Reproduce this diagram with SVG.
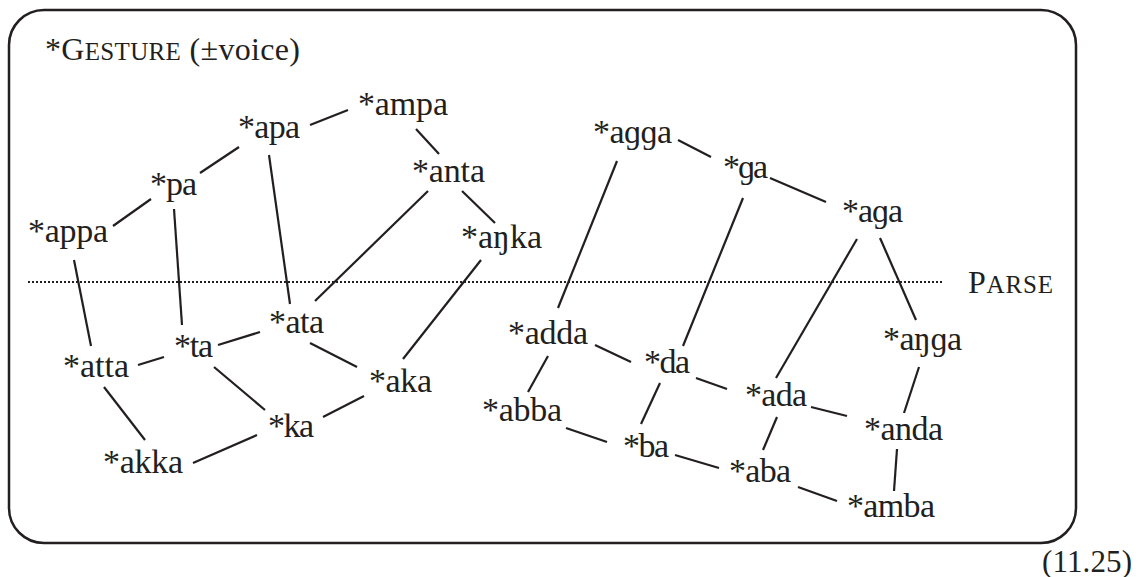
<svg xmlns="http://www.w3.org/2000/svg" width="1142" height="577" viewBox="0 0 1142 577">
<style>
text{font-family:"Liberation Serif","Times New Roman",serif;font-size:32px;fill:#231f20}
.n text{font-size:34px}
.sc{font-size:25px}
#edges line{stroke:#231f20;stroke-width:2.2;stroke-linecap:butt}
</style>
<rect width="1142" height="577" fill="#fff"/>
<rect id="frame" x="9" y="10" width="1067" height="533" rx="35" ry="35" fill="none" stroke="#231f20" stroke-width="2.5"/>
<text id="title" x="45" y="60" textLength="255">*G<tspan class="sc">ESTURE</tspan> (±voice)</text>
<line id="parse-line" x1="28" y1="282" x2="942" y2="282" stroke="#231f20" stroke-width="2" stroke-dasharray="2 2"/>
<text id="parse" x="968" y="293" textLength="85">P<tspan class="sc">ARSE</tspan></text>
<text id="number" x="1042" y="572" textLength="90" style="font-size:31px">(11.25)</text>
<g id="edges">
<line x1="310" y1="125" x2="348" y2="110"/>
<line x1="200" y1="173" x2="239" y2="147"/>
<line x1="113" y1="226" x2="151" y2="199"/>
<line x1="269" y1="155" x2="290" y2="304"/>
<line x1="174" y1="209" x2="182" y2="325"/>
<line x1="74" y1="260" x2="91" y2="346"/>
<line x1="416" y1="129" x2="439" y2="154"/>
<line x1="428" y1="191" x2="315" y2="301"/>
<line x1="462" y1="191" x2="495" y2="223"/>
<line x1="481" y1="260" x2="403" y2="359"/>
<line x1="678" y1="140" x2="711" y2="157"/>
<line x1="617" y1="161" x2="558" y2="308"/>
<line x1="743" y1="198" x2="683" y2="346"/>
<line x1="770" y1="178" x2="826" y2="202"/>
<line x1="857" y1="239" x2="776" y2="378"/>
<line x1="880" y1="238" x2="916" y2="320"/>
<line x1="919" y1="367" x2="904" y2="413"/>
<line x1="897" y1="449" x2="894" y2="491"/>
<line x1="811" y1="407" x2="847" y2="416"/>
<line x1="696" y1="378" x2="727" y2="389"/>
<line x1="777" y1="417" x2="763" y2="450"/>
<line x1="798" y1="487" x2="837" y2="501"/>
<line x1="675" y1="455" x2="719" y2="468"/>
<line x1="138" y1="365" x2="164" y2="357"/>
<line x1="218" y1="345" x2="260" y2="332"/>
<line x1="310" y1="343" x2="357" y2="367"/>
<line x1="214" y1="367" x2="265" y2="410"/>
<line x1="323" y1="417" x2="364" y2="396"/>
<line x1="104" y1="387" x2="145" y2="440"/>
<line x1="193" y1="463" x2="257" y2="435"/>
<line x1="595" y1="345" x2="631" y2="362"/>
<line x1="548" y1="356" x2="528" y2="392"/>
<line x1="660" y1="383" x2="641" y2="424"/>
<line x1="566" y1="428" x2="607" y2="442"/>
</g>
<g class="n">
<g id="n-apa"><text x="238" y="138" textLength="62">*apa</text></g>
<g id="n-ampa"><text x="358" y="115" textLength="90">*ampa</text></g>
<g id="n-pa"><text x="150" y="195" textLength="47">*pa</text></g>
<g id="n-appa"><text x="28" y="242" textLength="80">*appa</text></g>
<g id="n-anta"><text x="412" y="182" textLength="73">*anta</text></g>
<g id="n-anka"><text x="461" y="248" textLength="81">*aŋka</text></g>
<g id="n-agga"><text x="593" y="143" textLength="79">*aɡɡa</text></g>
<g id="n-ga"><text x="723" y="178" textLength="45">*ɡa</text></g>
<g id="n-aga"><text x="842" y="222" textLength="61">*aɡa</text></g>
<g id="n-anga"><text x="883" y="350" textLength="79">*aŋɡa</text></g>
<g id="n-anda"><text x="864" y="440" textLength="79">*anda</text></g>
<g id="n-amba"><text x="847" y="517" textLength="88">*amba</text></g>
<g id="n-ada"><text x="745" y="406" textLength="62">*ada</text></g>
<g id="n-aba"><text x="729" y="482" textLength="62">*aba</text></g>
<g id="n-ata"><text x="269" y="333" textLength="55">*ata</text></g>
<g id="n-ta"><text x="174" y="357" textLength="39">*ta</text></g>
<g id="n-atta"><text x="63" y="377" textLength="66">*atta</text></g>
<g id="n-aka"><text x="369" y="392" textLength="63">*aka</text></g>
<g id="n-ka"><text x="268" y="437" textLength="46">*ka</text></g>
<g id="n-akka"><text x="103" y="473" textLength="80">*akka</text></g>
<g id="n-adda"><text x="508" y="344" textLength="80">*adda</text></g>
<g id="n-da"><text x="644" y="373" textLength="46">*da</text></g>
<g id="n-abba"><text x="482" y="421" textLength="80">*abba</text></g>
<g id="n-ba"><text x="623" y="457" textLength="46">*ba</text></g>
</g>
</svg>
